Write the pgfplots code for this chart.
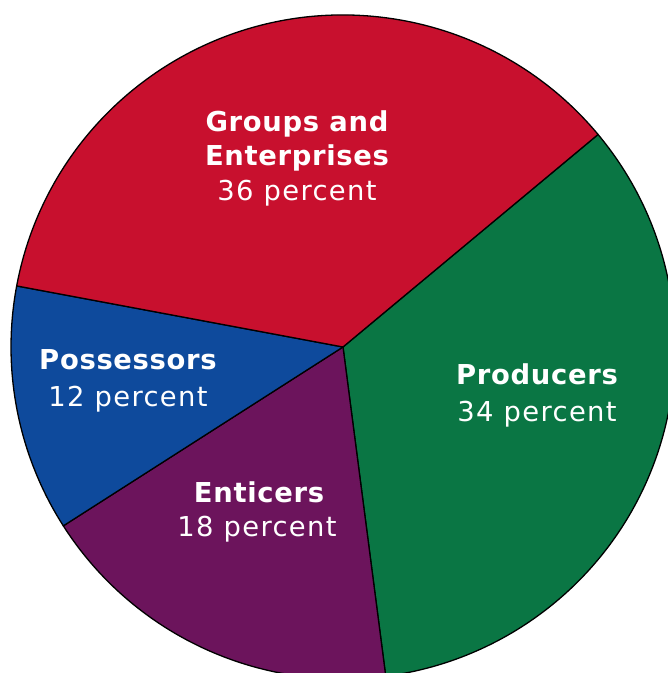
\documentclass[border=0pt]{standalone}
\usepackage{pgfplots}
\pgfplotsset{compat=1.18}
\usepackage{pgfplotstable}
\usepackage{fontspec}
\setmainfont{DejaVu Sans}
\newfontfamily\boldlab[LetterSpace=2.5]{DejaVu Sans Bold}
\newfontfamily\reglab[LetterSpace=5]{DejaVu Sans}
\definecolor{cRed}{RGB}{200,16,46}
\definecolor{cGreen}{RGB}{10,118,68}
\definecolor{cBlue}{RGB}{14,74,156}
\definecolor{cPurple}{RGB}{108,20,92}
\pgfplotstableread{
label value
Producers 34
Enticers 18
Possessors 12
Groups 36
}\piedata
\pgfplotstablegetelem{0}{value}\of\piedata \let\vA\pgfplotsretval
\pgfplotstablegetelem{1}{value}\of\piedata \let\vB\pgfplotsretval
\pgfplotstablegetelem{2}{value}\of\piedata \let\vC\pgfplotsretval
\pgfplotstablegetelem{3}{value}\of\piedata \let\vD\pgfplotsretval
\pgfmathsetmacro\aA{39.8}
\pgfmathsetmacro\aB{\aA-3.6*\vA}
\pgfmathsetmacro\aC{\aB-3.6*\vB}
\pgfmathsetmacro\aD{\aC-3.6*\vC}
\pgfmathsetmacro\aE{\aD-3.6*\vD}
\def\R{332}
\newcommand{\slice}[3]{%
  \fill[#3, draw=black, line width=1.3bp, line join=round]
    (axis cs:0,0) -- (axis cs:{\R*cos(#1)},{\R*sin(#1)})
    arc[start angle=#1, end angle=#2, radius=\R bp] -- cycle;}
\newcommand{\lab}[4]{\node[anchor=base, text=white, font=#4\fontsize{27.5}{30}\selectfont, inner sep=0pt] at (axis cs:{#1-343},{347-#2}) {#3};}
\begin{document}
\begin{tikzpicture}
\begin{axis}[
  scale only axis, x=1bp, y=1bp,
  xmin=-343, xmax=325, ymin=-326, ymax=347,
  hide axis, clip=true]
\slice{\aA}{\aB}{cGreen}
\slice{\aB}{\aC}{cPurple}
\slice{\aC}{\aD}{cBlue}
\slice{\aD}{\aE}{cRed}
\lab{297}{132}{Groups and}{\boldlab}
\lab{297}{166}{Enterprises}{\boldlab}
\lab{297}{201}{36 percent}{\reglab}
\lab{128}{370}{Possessors}{\boldlab}
\lab{128}{407}{12 percent}{\reglab}
\lab{537}{385}{Producers}{\boldlab}
\lab{537}{422}{34 percent}{\reglab}
\lab{259}{503}{Enticers}{\boldlab}
\lab{257}{537}{18 percent}{\reglab}
\end{axis}
\pgfresetboundingbox
\path (current axis.south west) rectangle (current axis.north east);
\end{tikzpicture}
\end{document}
